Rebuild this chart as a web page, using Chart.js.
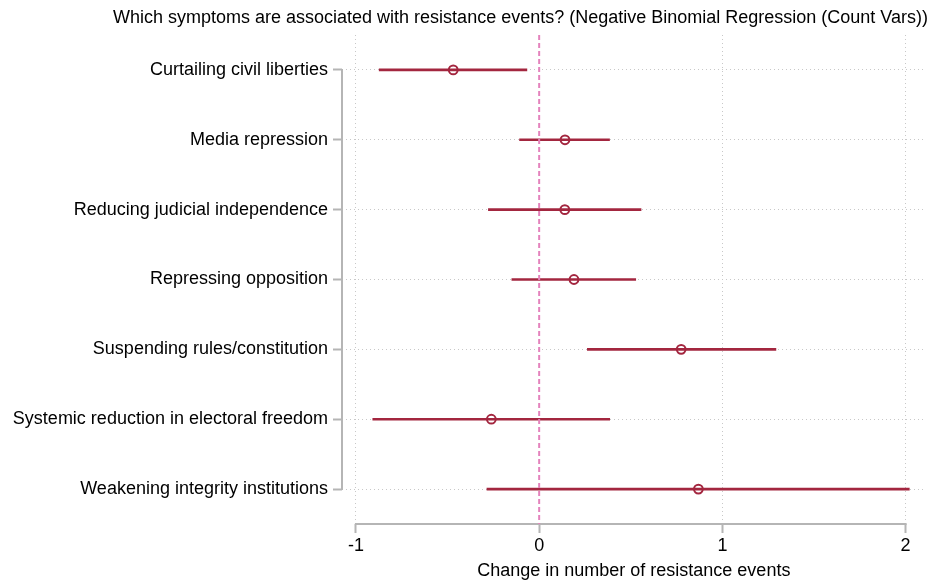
<!DOCTYPE html>
<html>
<head>
<meta charset="utf-8">
<title>Resistance events – negative binomial regression</title>
<script src="https://cdn.jsdelivr.net/npm/chart.js@4.4.1/dist/chart.umd.min.js"></script>
<style>
  html, body { margin: 0; padding: 0; background: #fff; }
  #wrap { width: 932px; height: 582px; position: relative; }
</style>
</head>
<body>
<div id="wrap"><canvas id="chart"></canvas></div>
<script>
// Symptoms (one row each, top to bottom)
const symptoms = [
  'Curtailing civil liberties',
  'Media repression',
  'Reducing judicial independence',
  'Repressing opposition',
  'Suspending rules/constitution',
  'Systemic reduction in electoral freedom',
  'Weakening integrity institutions'
];
// Point estimates and confidence bounds
const estimates = [-0.469, 0.141, 0.140, 0.190, 0.775, -0.261, 0.869];
const ciLow     = [-0.873, -0.107, -0.277, -0.149, 0.263, -0.908, -0.285];
const ciHigh    = [-0.067, 0.384, 0.556, 0.527, 1.292, 0.385, 2.020];
// Labelled ticks on the horizontal axis
const xTicks = [-1, 0, 1, 2];

const FONT = '"Liberation Sans", Arial, Helvetica, sans-serif';
const RED = '#a3263f';
const PINK = '#e483bd';
const AXIS_GRAY = '#b5b5b5';
const GRID_GRAY = '#c8c8c8';

// Axis lines that span only the labelled range, plus the reference line at zero
const frame = {
  id: 'frame',
  beforeDatasetsDraw(chart) {
    const { ctx, chartArea, scales: { x, y } } = chart;
    ctx.save();
    ctx.strokeStyle = AXIS_GRAY;
    ctx.lineWidth = 2;
    ctx.setLineDash([]);
    // horizontal axis from first to last tick
    ctx.beginPath();
    ctx.moveTo(x.getPixelForValue(xTicks[0]) - 1, chartArea.bottom);
    ctx.lineTo(x.getPixelForValue(xTicks[xTicks.length - 1]) + 1, chartArea.bottom);
    ctx.stroke();
    // vertical axis from first to last category
    ctx.beginPath();
    ctx.moveTo(chartArea.left, y.getPixelForValue(0) - 1);
    ctx.lineTo(chartArea.left, y.getPixelForValue(symptoms.length - 1) + 1);
    ctx.stroke();
    ctx.restore();
  },
  afterDatasetsDraw(chart) {
    const { ctx, chartArea, scales: { x } } = chart;
    const x0 = x.getPixelForValue(0);
    ctx.save();
    ctx.strokeStyle = PINK;
    ctx.lineWidth = 2;
    ctx.setLineDash([5, 3]);
    ctx.beginPath();
    ctx.moveTo(x0, chartArea.top);
    ctx.lineTo(x0, chartArea.bottom);
    ctx.stroke();
    ctx.restore();
  }
};

new Chart(document.getElementById('chart'), {
  type: 'bar',
  data: {
    labels: symptoms,
    datasets: [
      {
        label: '95% CI',
        data: symptoms.map((_, i) => [ciLow[i], ciHigh[i]]),
        backgroundColor: RED,
        borderWidth: 0,
        barThickness: 2,
        order: 2
      },
      {
        type: 'line',
        label: 'Estimate',
        indexAxis: 'y',
        data: estimates,
        showLine: false,
        pointStyle: 'circle',
        pointRadius: 4.4,
        pointBorderWidth: 2,
        pointBackgroundColor: 'rgba(255,255,255,0)',
        pointBorderColor: RED,
        order: 1
      }
    ]
  },
  options: {
    indexAxis: 'y',
    responsive: true,
    maintainAspectRatio: false,
    animation: false,
    layout: { padding: { left: 0, right: 4, top: 0, bottom: 0 } },
    plugins: {
      legend: { display: false },
      tooltip: { enabled: false },
      title: {
        display: true,
        text: 'Which symptoms are associated with resistance events? (Negative Binomial Regression (Count Vars))',
        align: 'end',
        color: '#000',
        font: { family: FONT, size: 18, weight: 'normal' },
        padding: { top: 7, bottom: 6.4 }
      }
    },
    scales: {
      x: {
        type: 'linear',
        min: -1.076,
        max: 2.109,
        afterBuildTicks: (s) => { s.ticks = xTicks.map(v => ({ value: v })); },
        border: { display: false, dash: [1, 3] },
        grid: {
          color: GRID_GRAY,
          lineWidth: 1,
          tickLength: 9,
          tickColor: AXIS_GRAY,
          tickWidth: 2,
          tickBorderDash: []
        },
        ticks: {
          color: '#000',
          font: { family: FONT, size: 18 },
          padding: 2,
          maxRotation: 0
        },
        title: {
          display: true,
          text: 'Change in number of resistance events',
          color: '#000',
          font: { family: FONT, size: 18 },
          padding: { top: 4, bottom: 0 }
        },
        afterFit: (s) => { s.height = 58; }
      },
      y: {
        type: 'category',
        offset: true,
        border: { display: false, dash: [1, 3] },
        grid: {
          color: GRID_GRAY,
          lineWidth: 1,
          offset: false,
          tickLength: 9,
          tickColor: AXIS_GRAY,
          tickWidth: 2,
          tickBorderDash: []
        },
        ticks: {
          color: '#000',
          font: { family: FONT, size: 18 },
          padding: 5
        },
        afterFit: (s) => { s.width = 342; }
      }
    }
  },
  plugins: [frame]
});
</script>
</body>
</html>
